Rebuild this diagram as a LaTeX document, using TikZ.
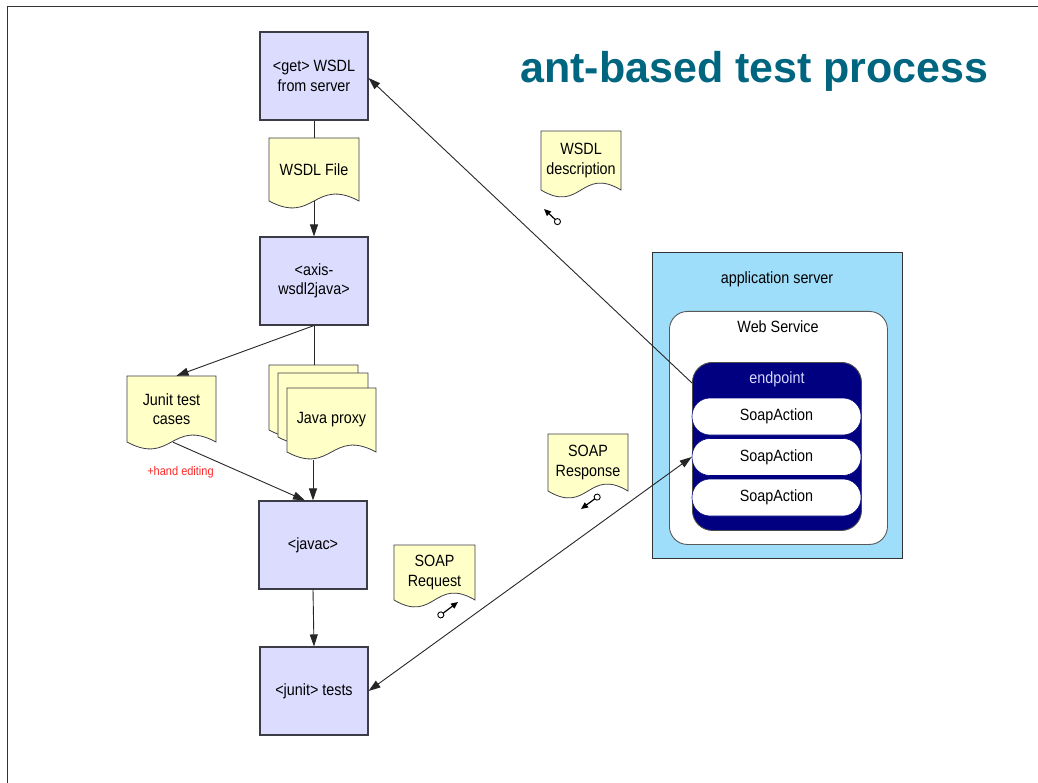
\documentclass[tikz,border=0pt]{standalone}
\usepackage{fontspec}
\setmainfont{Liberation Sans}[FakeStretch=0.88]
\newfontfamily\titlefont{Liberation Sans}
\usetikzlibrary{arrows.meta,calc}
\definecolor{boxfill}{RGB}{220,220,255}
\definecolor{boxline}{RGB}{60,60,70}
\definecolor{docfill}{RGB}{255,255,200}
\definecolor{appfill}{RGB}{158,222,250}
\definecolor{titlecol}{RGB}{0,102,128}
\definecolor{epnavy}{RGB}{0,0,128}
\definecolor{eptext}{RGB}{215,215,255}
\definecolor{redtxt}{RGB}{255,40,40}
\newcommand\mydoc[6]{%
  \filldraw[docstyle] (#2,#3) -- (#4,#3) -- (#4,#5) .. controls ({(#2+#4)/2},{#5-24}) and ({(#2+#4)/2},{#5+24}) .. (#2,#5) -- cycle;
  \node[doctext,minimum width={#4-#2},minimum height={#5-#3}] (#1) at ({(#2+#4)/2},{(#3+#5)/2}) {#6};}
\begin{document}
\begin{tikzpicture}[x=1pt,y=-1pt,
  txt/.style={font=\fontsize{16.3}{19.5}\selectfont,inner sep=0pt,align=center},
  procbox/.style={txt,draw=boxline,fill=boxfill,line width=1.1pt,minimum width=108pt,minimum height=88pt},
  docstyle/.style={draw=boxline,fill=docfill,line width=0.8pt},
  doctext/.style={txt},
  conn/.style={line width=0.9pt,draw=black!85},
  arr/.style={conn,-{Triangle[length=12pt,width=8pt]}},
  dblarr/.style={conn,{Triangle[length=12pt,width=8pt]}-{Triangle[length=12pt,width=8pt]}},
  small/.style={line width=1.2pt,{Circle[open,fill=white,length=7pt,line width=0.9pt]}-{Triangle[length=7pt,width=6pt]}},
  framestyle/.style={line width=1pt,draw=black!80},
  pill/.style={txt,fill=white,draw=epnavy,line width=0.6pt,rounded corners=18pt,minimum width=169pt,minimum height=37pt}
]
\useasboundingbox (0,0) rectangle (1038,783);
% frame
\coordinate (fa) at (7,783);
\coordinate (fb) at (7,7);
\coordinate (fc) at (1038,7);
\draw[framestyle] (fa) -- (fb) -- (fc);
% title
\node[font=\titlefont\fontsize{43}{50}\selectfont\bfseries,text=titlecol,anchor=base west,inner sep=0pt] (title) at (520,83) {ant-based test process};
% application server
\node[draw=black!80,fill=appfill,line width=1pt,minimum width=250pt,minimum height=306pt,anchor=north west,inner sep=0pt] (app) at (652,252) {};
\node[txt] (applbl) at (777,279) {application server};
\node[draw=black!65,fill=white,line width=0.9pt,rounded corners=18pt,minimum width=218pt,minimum height=233pt,anchor=north west,inner sep=0pt] (ws) at (669,311) {};
\node[txt] (wslbl) at (778,327) {Web Service};
\node[draw=black!70,fill=epnavy,line width=0.9pt,rounded corners=20pt,minimum width=169pt,minimum height=168pt,anchor=north west,inner sep=0pt] (ep) at (692,362) {};
\node[txt,text=eptext] (eplbl) at (777,379) {endpoint};
\node[pill] (sa1) at (776.5,416.5) {SoapAction};
\node[pill] (sa2) at (776.5,457) {SoapAction};
\node[pill] (sa3) at (776.5,497.5) {SoapAction};
% process boxes
\node[procbox] (get) at (314,76) {<get> WSDL\\from server};
\node[procbox] (axis) at (314,281) {<axis-\\wsdl2java>};
\node[procbox] (javac) at (313,545) {<javac>};
\node[procbox] (jt) at (314,691) {<junit> tests};
% documents
\mydoc{wf}{269}{138}{359}{201}{WSDL File}
\mydoc{jc}{127}{376}{216}{442}{Junit test\\cases}
\mydoc{jp1}{269}{365}{358}{430}{}
\mydoc{jp2}{278}{373}{368}{437}{}
\mydoc{jp3}{287}{388}{376}{452}{Java proxy}
\mydoc{wd}{541}{131}{621}{190}{WSDL\\description}
\mydoc{sr}{548}{434}{628}{491}{SOAP\\Response}
\mydoc{sq}{394}{545}{475}{600}{SOAP\\Request}
\node[text=redtxt,font=\fontsize{12.5}{14}\selectfont,inner sep=0pt] (he) at (180.5,472) {+hand editing};
% connectors
\draw[conn] (get.south) -- (wf.north);
\draw[arr] (wf.south) -- (axis.north);
\draw[arr] (axis.south) -- ([xshift=5pt]jc.north);
\draw[conn] (axis.south) -- (axis.south |- jp1.north);
\draw[arr] ([xshift=1.5pt]jc.south) -- ([xshift=-8pt]javac.north);
\draw[arr] ($(javac.north |- jp3.south)+(0,8)$) -- (javac.north);
\draw[arr] (javac.south) -- (jt.north);
\draw[dblarr] (jt.east) -- (sa2.west);
\coordinate (ep1) at (692,383);
\draw[arr] (ep1) -- ([yshift=-2pt]get.east);
% message arrows
\coordinate (m1a) at (560,224);
\coordinate (m1b) at (544,209);
\draw[small] (m1a) -- (m1b);
\coordinate (m2a) at (600,495);
\coordinate (m2b) at (581,509);
\draw[small] (m2a) -- (m2b);
\coordinate (m3a) at (438,617);
\coordinate (m3b) at (458,602);
\draw[small] (m3a) -- (m3b);
\end{tikzpicture}
\end{document}
